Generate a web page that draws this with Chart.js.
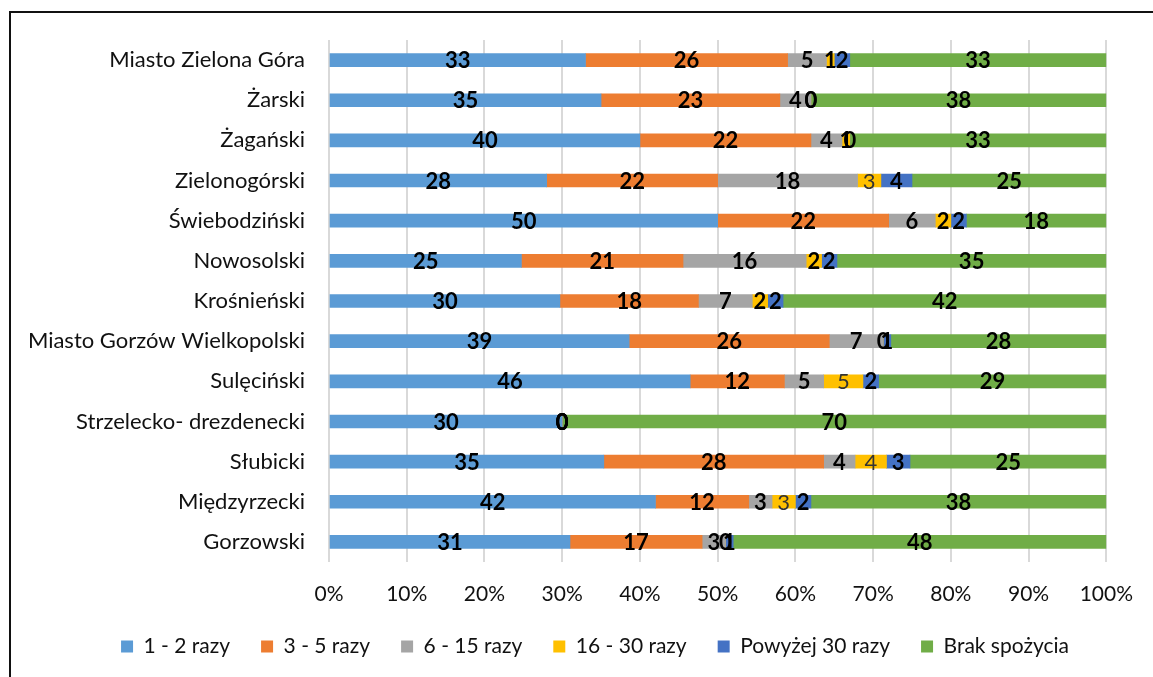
<!DOCTYPE html>
<html lang="pl">
<head>
    <meta charset="UTF-8">
    <title>Spożycie - powiaty lubuskie</title>
    <script src="https://cdn.jsdelivr.net/npm/chart.js@4.4.1/dist/chart.umd.min.js"></script>
    <style>
        html, body { margin: 0; padding: 0; background: #fff; }
        body { width: 1153px; height: 677px; overflow: hidden; position: relative; }
        /* ramka wykresu (lewa i górna krawędź) */
        .frame {
            position: absolute; left: 9px; top: 11px;
            width: 1200px; height: 700px;
            border-left: 2px solid #111; border-top: 2px solid #111;
        }
        .chart-box { position: absolute; left: 0; top: 0; width: 1153px; height: 677px; }
    </style>
</head>
<body>
    <div class="frame"></div>
    <div class="chart-box">
        <canvas id="myChart" width="1153" height="677"></canvas>
    </div>

<script>
    // Dane
    var powiaty = [
        'Miasto Zielona Góra', 'Żarski', 'Żagański', 'Zielonogórski', 'Świebodziński',
        'Nowosolski', 'Krośnieński', 'Miasto Gorzów Wielkopolski', 'Sulęciński',
        'Strzelecko- drezdenecki', 'Słubicki', 'Międzyrzecki', 'Gorzowski'
    ];
    var razy1_2   = [33, 35, 40, 28, 50, 25, 30, 39, 46, 30, 35, 42, 31];
    var razy3_5   = [26, 23, 22, 22, 22, 21, 18, 26, 12,  0, 28, 12, 17];
    var razy6_15  = [ 5,  4,  4, 18,  6, 16,  7,  7,  5,  0,  4,  3,  3];
    var razy16_30 = [ 1,  0,  1,  3,  2,  2,  2,  0,  5,  0,  4,  3,  0];
    var powyzej30 = [ 2,  0,  0,  4,  2,  2,  2,  1,  2,  0,  3,  2,  1];
    var brak      = [33, 38, 33, 25, 18, 35, 42, 28, 29, 70, 25, 38, 48];

    var serie = [
        { label: '1 - 2 razy',      data: razy1_2,   color: '#5B9BD5' },
        { label: '3 - 5 razy',      data: razy3_5,   color: '#ED7D31' },
        { label: '6 - 15 razy',     data: razy6_15,  color: '#A5A5A5' },
        { label: '16 - 30 razy',    data: razy16_30, color: '#FFC000' },
        { label: 'Powyżej 30 razy', data: powyzej30, color: '#4472C4' },
        { label: 'Brak spożycia',   data: brak,      color: '#70AD47' }
    ];

    // wykres 100% skumulowany - udział każdej wartości w sumie wiersza
    var sumy = powiaty.map(function (p, i) {
        return serie.reduce(function (s, d) { return s + d.data[i]; }, 0);
    });

    var FONT = 'Lato';
    var TXT = '#111';

    // etykiety danych w środku segmentów
    var barLabels = {
        id: 'barLabels',
        afterDatasetsDraw: function (chart) {
            var ctx = chart.ctx;
            ctx.save();
            ctx.textAlign = 'center';
            ctx.textBaseline = 'middle';
            chart.data.datasets.forEach(function (ds, di) {
                var meta = chart.getDatasetMeta(di);
                meta.data.forEach(function (bar, i) {
                    var p = bar.getProps(['x', 'y', 'base'], true);
                    var v = ds.raw[i];
                    var thin = (di === 3 && v >= 3);
                    ctx.font = (thin ? 'normal ' : 'bold ') + '22px ' + FONT;
                    ctx.fillStyle = thin ? '#333' : '#000';
                    ctx.fillText(String(v), (p.x + p.base) / 2, p.y + 1);
                });
            });
            ctx.restore();
        }
    };

    // legenda przesunięta w prawo, tak jak w oryginale
    var legendShift = {
        id: 'legendShift',
        afterLayout: function (chart) {
            chart.legend.left += 30;
            chart.legend.right += 30;
        }
    };

    var ctx = document.getElementById('myChart').getContext('2d');
    var myChart = new Chart(ctx, {
        type: 'bar',
        data: {
            labels: powiaty,
            datasets: serie.map(function (s) {
                return {
                    label: s.label,
                    raw: s.data,
                    data: s.data.map(function (v, i) { return v / sumy[i] * 100; }),
                    backgroundColor: s.color,
                    borderWidth: 0,
                    barThickness: 13
                };
            })
        },
        options: {
            indexAxis: 'y',
            responsive: false,
            animation: false,
            events: [],
            layout: { padding: { left: 20, right: 43, top: 40, bottom: 10 } },
            scales: {
                x: {
                    stacked: true,
                    min: 0,
                    max: 100,
                    ticks: {
                        stepSize: 10,
                        padding: 20,
                        color: TXT,
                        font: { family: FONT, size: 21 },
                        callback: function (v) { return v + '%'; }
                    },
                    grid: { color: '#d9d9d9', lineWidth: 2, drawTicks: false },
                    border: { display: false },
                    afterFit: function (scale) { scale.height = 43; }
                },
                y: {
                    stacked: true,
                    ticks: {
                        padding: 16,
                        color: TXT,
                        font: { family: FONT, size: 22 }
                    },
                    grid: { display: false },
                    border: { display: false },
                    afterFit: function (scale) { scale.width = 309; }
                }
            },
            plugins: {
                legend: {
                    position: 'bottom',
                    labels: {
                        boxWidth: 12,
                        boxHeight: 12,
                        padding: 31,
                        color: TXT,
                        font: { family: FONT, size: 21 }
                    }
                },
                tooltip: { enabled: false }
            }
        },
        plugins: [barLabels, legendShift]
    });
</script>
</body>
</html>
